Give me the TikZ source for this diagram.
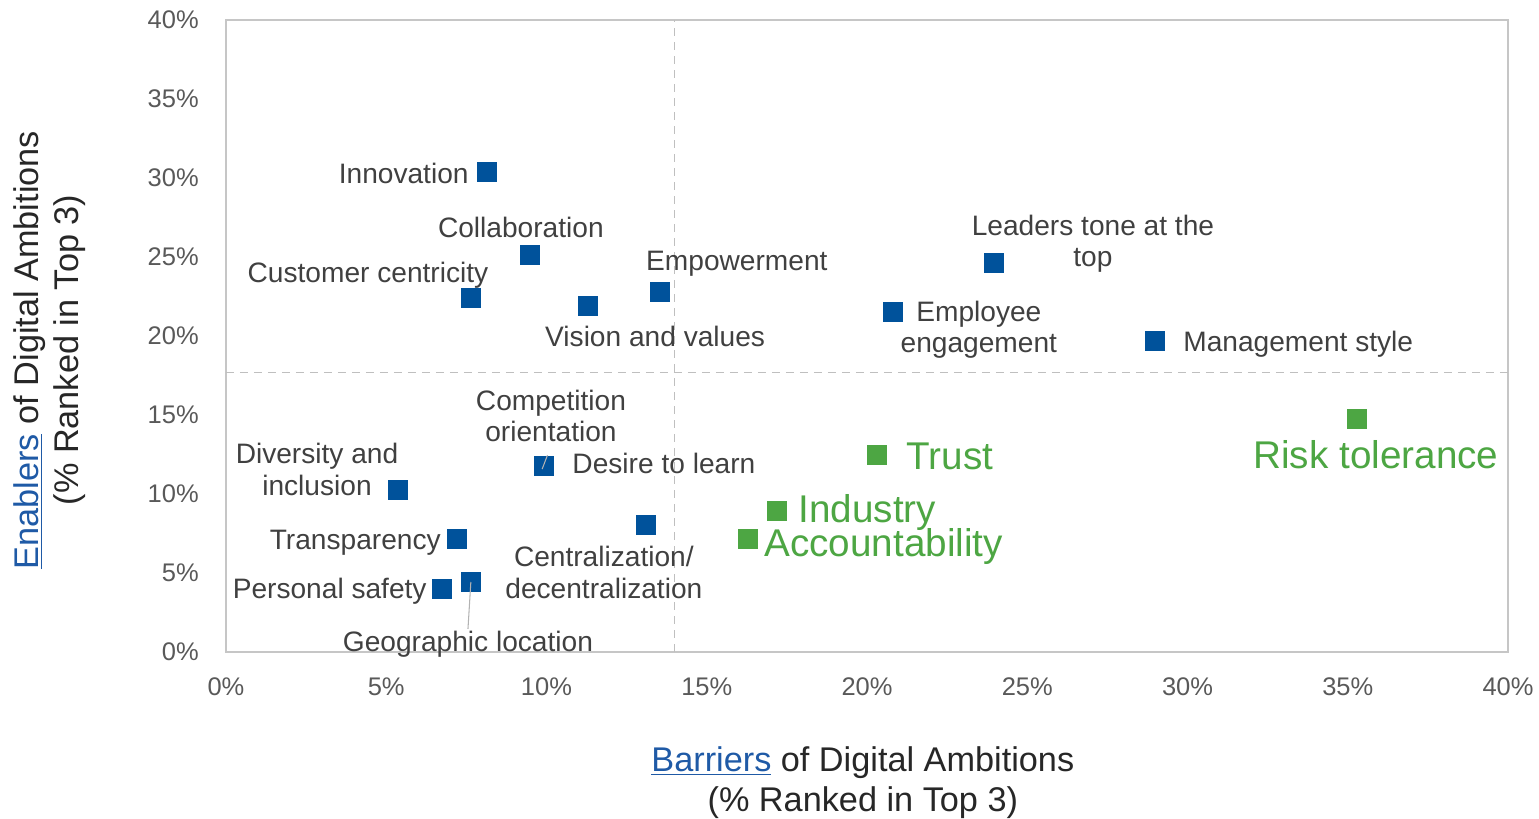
\documentclass[tikz,border=0pt]{standalone}
\usepackage{fontspec}
\setmainfont{Liberation Sans}
\usetikzlibrary{positioning}
\definecolor{sqblue}{RGB}{0,82,155}
\definecolor{sqgreen}{RGB}{77,166,67}
\definecolor{txtgray}{RGB}{64,64,64}
\definecolor{tickgray}{RGB}{89,89,89}
\definecolor{linkblue}{RGB}{31,90,166}
\begin{document}
\begin{tikzpicture}[x=0.641cm, y=0.316cm,
    ebox/.style={rectangle, fill=sqblue, minimum size=0.4cm, inner sep=0pt},
    gbox/.style={ebox, fill=sqgreen},
    lbl/.style={text=txtgray, font=\fontsize{16}{18}\selectfont, inner sep=0pt, align=center},
    glbl/.style={text=sqgreen, font=\fontsize{22}{26}\selectfont, inner sep=0pt},
    ticklbl/.style={text=tickgray, font=\fontsize{14.5}{17}\selectfont, inner sep=0pt},
    axtitle/.style={text=txtgray!60!black, font=\fontsize{19.5}{22.7}\selectfont, inner sep=0pt, align=center},
    leader/.style={draw=gray!60, line width=0.6pt},
    quad/.style={draw=gray!50, dash pattern=on 0.16cm off 0.12cm, line width=0.7pt}]
    \useasboundingbox (-7.051,-10.570) rectangle (40.967,41.266);
    % plot frame and quadrant lines
    \draw[gray!45, line width=0.85pt] (0,0) rectangle (40,40);
    \draw[quad] (14,0) -- (14,40);
    \draw[quad] (0,17.7) -- (40,17.7);
    % axis tick labels
    \foreach \v in {0,5,...,40} {
        \node[ticklbl, anchor=east] (yt\v) at (-0.84,\v) {\v\%};
        \node[ticklbl] (xt\v) at (\v,-2.22) {\v\%};
    }
    % axis titles
    \node[axtitle] (xtitle) at (19.87,-8.27)
        {{\color{linkblue}\underline{Barriers}} of Digital Ambitions\\(\% Ranked in Top 3)};
    \node[axtitle, rotate=90] (ytitle) at (-5.49,19.11)
        {{\color{linkblue}\underline{Enablers}} of Digital Ambitions\\(\% Ranked in Top 3)};
    % enablers / barriers (blue)
    \node[ebox] (inno) at (8.14,30.4) {};
    \node[ebox] (collab) at (9.49,25.1) {};
    \node[ebox] (cust) at (7.64,22.4) {};
    \node[ebox] (vision) at (11.3,21.9) {};
    \node[ebox] (empow) at (13.54,22.8) {};
    \node[ebox] (leaders) at (23.96,24.6) {};
    \node[ebox] (employee) at (20.81,21.5) {};
    \node[ebox] (mgmt) at (28.99,19.7) {};
    \node[ebox] (divers) at (5.37,10.25) {};
    \node[ebox] (desire) at (9.92,11.8) {};
    \node[ebox] (central) at (13.1,8.04) {};
    \node[ebox] (transp) at (7.21,7.15) {};
    \node[ebox] (safety) at (6.74,3.99) {};
    \node[ebox] (geo) at (7.64,4.43) {};
    % highlighted factors (green)
    \node[gbox] (trust) at (20.31,12.47) {};
    \node[gbox] (industry) at (17.19,8.92) {};
    \node[gbox] (account) at (16.29,7.15) {};
    \node[gbox] (risk) at (35.29,14.75) {};
    % labels
    \node[lbl, anchor=east] (innoname) at (7.58,30.30) {Innovation};
    \node[lbl] (collabname) at (9.20,26.90) {Collaboration};
    \node[lbl] (custname) at (4.43,23.85) {Customer centricity};
    \node[lbl] (visionname) at (13.39,20.00) {Vision and values};
    \node[lbl] (empowname) at (15.94,24.60) {Empowerment};
    \node[lbl] (leadersname) at (27.05,25.85) {Leaders tone at the\\top};
    \node[lbl] (employeename) at (23.49,20.40) {Employee\\engagement};
    \node[lbl, anchor=west] (mgmtname) at (29.86,19.45) {Management style};
    \node[lbl] (diversname) at (2.84,11.55) {Diversity and\\inclusion};
    \node[lbl] (compname) at (10.14,14.95) {Competition\\orientation};
    \node[lbl, anchor=west] (desirename) at (10.80,11.95) {Desire to learn};
    \node[lbl] (centralname) at (11.79,5.05) {Centralization/\\decentralization};
    \node[lbl, anchor=east] (transpname) at (6.71,6.90) {Transparency};
    \node[lbl, anchor=east] (safetyname) at (6.27,3.85) {Personal safety};
    \node[lbl] (geoname) at (7.55,0.50) {Geographic location};
    \node[glbl, anchor=west] (trustname) at (21.22,12.35) {Trust};
    \node[glbl, anchor=west] (industryname) at (17.85,8.80) {Industry};
    \node[glbl, anchor=west] (accountname) at (16.79,6.70) {Accountability};
    \node[glbl] (riskname) at (35.88,12.50) {Risk tolerance};
    % leader lines
    \draw[leader] ([xshift=-1pt,yshift=-2pt]desire.center) -- ([xshift=2pt]desire.north);
    \draw[leader] (geo.center) -- ([yshift=1pt]geoname.north);
\end{tikzpicture}
\end{document}
